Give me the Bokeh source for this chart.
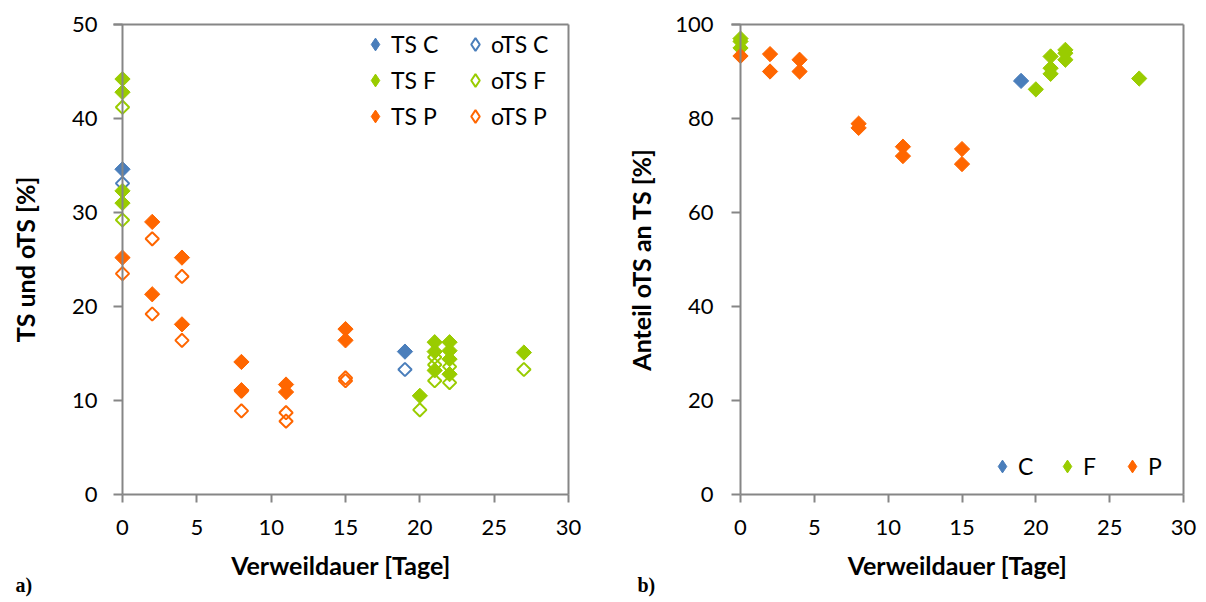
from bokeh.plotting import figure
from bokeh.models import Legend, LegendItem, FixedTicker, Title, Span, LinearAxis
from bokeh.layouts import row
from bokeh.embed import file_html
from bokeh.resources import INLINE
import math

# ---- data (a): TS and oTS [%] vs. retention time [days]
ts_c_days = [0, 19]
ts_c_vals = [34.6, 15.2]
ots_c_days = [0, 19]
ots_c_vals = [33.1, 13.3]

ts_f_days = [0, 0, 0, 0, 20, 21, 21, 21, 22, 22, 22, 22, 27]
ts_f_vals = [44.2, 42.8, 32.3, 31.0, 10.5, 16.2, 15.2, 13.2, 16.2, 15.3, 14.4, 12.8, 15.1]
ots_f_days = [0, 0, 20, 21, 21, 21, 22, 22, 27]
ots_f_vals = [41.2, 29.2, 9.0, 14.6, 13.8, 12.1, 13.6, 11.9, 13.3]

ts_p_days = [0, 2, 2, 4, 4, 8, 8, 11, 11, 15, 15]
ts_p_vals = [25.2, 29.0, 21.3, 25.2, 18.1, 14.1, 11.1, 11.7, 10.9, 17.6, 16.4]
ots_p_days = [0, 2, 2, 4, 4, 8, 8, 11, 11, 15, 15]
ots_p_vals = [23.5, 27.2, 19.2, 23.2, 16.4, 11.0, 8.9, 8.7, 7.8, 12.4, 12.1]

# ---- data (b): share of oTS in TS [%]
c_days = [19]
c_share = [88.0]
f_days = [0, 0, 0, 20, 21, 21, 21, 22, 22, 22, 27]
f_share = [97.0, 96.4, 95.0, 86.2, 93.2, 90.7, 89.5, 94.6, 93.9, 92.5, 88.5]
p_days = [0, 2, 2, 4, 4, 8, 8, 11, 11, 15, 15]
p_share = [93.3, 93.7, 90.0, 92.5, 90.0, 78.9, 78.0, 74.0, 72.0, 73.5, 70.3]

x_ticks = [0, 5, 10, 15, 20, 25, 30]
ya_ticks = [0, 10, 20, 30, 40, 50]
yb_ticks = [0, 20, 40, 60, 80, 100]

BLUE = "#4A7EBB"
GREEN = "#99CC00"
ORANGE = "#FF6600"
GRAY = "#868686"
FONT = "Lato"
ANG = math.pi / 4
FS = 10.8   # filled marker size (rotated square)
OS = 9.4    # open marker size
NAN = float("nan")


def plain_axis(**kw):
    ax = LinearAxis(ticker=FixedTicker(ticks=[]), **kw)
    ax.axis_line_color = GRAY
    ax.axis_line_width = 2
    ax.major_tick_line_color = None
    ax.minor_tick_line_color = None
    ax.major_label_text_font_size = "0px"
    return ax


def build(frame_w, x_start, y_top, yticks, ylabel, ystand, ylab_stand, border_left, border_right):
    p = figure(frame_width=frame_w, frame_height=470, x_range=(x_start, 30), y_range=(0, y_top),
               min_border_left=border_left, min_border_right=border_right,
               min_border_top=24, min_border_bottom=104,
               x_axis_location=None, y_axis_location=None,
               output_backend="svg", toolbar_location=None)
    p.xgrid.visible = False
    p.ygrid.visible = False
    p.outline_line_color = None
    p.background_fill_color = "white"
    p.border_fill_color = "white"
    xa = LinearAxis(ticker=FixedTicker(ticks=x_ticks), bounds=(0, 30))
    ya = LinearAxis(ticker=FixedTicker(ticks=yticks))
    for ax in (xa, ya):
        ax.axis_line_color = GRAY
        ax.axis_line_width = 2
        ax.major_tick_line_color = GRAY
        ax.major_tick_line_width = 2
        ax.minor_tick_line_color = None
        ax.major_label_text_font = FONT
        ax.major_label_text_font_size = "22px"
        ax.major_label_text_color = "black"
        ax.axis_label_text_font = FONT
        ax.axis_label_text_font_size = "25px"
        ax.axis_label_text_font_style = "bold"
        ax.axis_label_text_color = "black"
    xa.major_tick_in = 0
    xa.major_tick_out = 8
    # y axis sits at the frame edge; its ticks reach into the margin up to x = 0
    ya.axis_line_color = None
    ya.major_tick_out = 0
    ya.major_tick_in = 9
    xa.axis_label = "Verweildauer [Tage]"
    ya.axis_label = ylabel
    xa.major_label_standoff = 17
    ya.major_label_standoff = ylab_stand
    xa.axis_label_standoff = 12
    ya.axis_label_standoff = ystand
    p.add_layout(xa, "below")
    p.add_layout(ya, "left")
    p.add_layout(plain_axis(bounds=(x_start, 30)), "above")
    p.add_layout(plain_axis(), "right")
    p.add_layout(Span(location=0, dimension="height", line_color=GRAY, line_width=2))
    return p


def make_legend(items, loc, orientation="vertical"):
    return Legend(items=items, location=loc, orientation=orientation,
                  label_text_font=FONT, label_text_font_size="23px", label_text_color="black",
                  glyph_width=32, glyph_height=32, label_height=20, label_standoff=0,
                  spacing=4, padding=0, margin=0,
                  border_line_alpha=0, background_fill_alpha=0)


def key(p, color, filled):
    if filled:
        return p.scatter([NAN], [NAN], marker="diamond", fill_color=color, line_color=color)
    return p.scatter([NAN], [NAN], marker="diamond", fill_alpha=0, line_color=color, line_width=2)


def panel_tag(text, offset):
    return Title(text=text, align="left", offset=offset, standoff=-22,
                 text_font="Liberation Serif", text_font_style="bold",
                 text_font_size="20px", text_color="black")


# ---------------- figure a  (x = 0 sits at canvas x 122)
pa = build(455, -0.605, 50, ya_ticks, "TS und oTS [%]", 29, 16, 113, 35)

pa.scatter(ts_c_days, ts_c_vals, marker="square", angle=ANG, size=FS,
           fill_color=BLUE, line_color=BLUE, line_width=1)
pa.scatter(ots_c_days, ots_c_vals, marker="square", angle=ANG, size=OS,
           fill_alpha=0, line_color=BLUE, line_width=2)
pa.scatter(ts_f_days, ts_f_vals, marker="square", angle=ANG, size=FS,
           fill_color=GREEN, line_color=GREEN, line_width=1)
pa.scatter(ots_f_days, ots_f_vals, marker="square", angle=ANG, size=OS,
           fill_alpha=0, line_color=GREEN, line_width=2)
pa.scatter(ts_p_days, ts_p_vals, marker="square", angle=ANG, size=FS,
           fill_color=ORANGE, line_color=ORANGE, line_width=1)
pa.scatter(ots_p_days, ots_p_vals, marker="square", angle=ANG, size=OS,
           fill_alpha=0, line_color=ORANGE, line_width=2)

pa.add_layout(make_legend([LegendItem(label="TS C", renderers=[key(pa, BLUE, True)]),
                           LegendItem(label="TS F", renderers=[key(pa, GREEN, True)]),
                           LegendItem(label="TS P", renderers=[key(pa, ORANGE, True)])], (246, 362)))
pa.add_layout(make_legend([LegendItem(label="oTS C", renderers=[key(pa, BLUE, False)]),
                           LegendItem(label="oTS F", renderers=[key(pa, GREEN, False)]),
                           LegendItem(label="oTS P", renderers=[key(pa, ORANGE, False)])], (346, 362)))

pa.add_layout(panel_tag("a)", -98), "below")

# ---------------- figure b  (x = 0 sits at canvas x 740)
pb = build(452, -0.6095, 100, yb_ticks, "Anteil oTS an TS [%]", 16, 18, 128, 23)

pb.scatter(c_days, c_share, marker="square", angle=ANG, size=FS,
           fill_color=BLUE, line_color=BLUE, line_width=1)
pb.scatter(f_days, f_share, marker="square", angle=ANG, size=FS,
           fill_color=GREEN, line_color=GREEN, line_width=1)
pb.scatter(p_days, p_share, marker="square", angle=ANG, size=FS,
           fill_color=ORANGE, line_color=ORANGE, line_width=1)

lg3 = make_legend([LegendItem(label="C", renderers=[key(pb, BLUE, True)]),
                   LegendItem(label="F", renderers=[key(pb, GREEN, True)]),
                   LegendItem(label="P", renderers=[key(pb, ORANGE, True)])], (255, 12), "horizontal")
lg3.label_width = 23
lg3.spacing = 10
pb.add_layout(lg3)

pb.add_layout(panel_tag("b)", -94), "below")

layout = row(pa, pb)
open("out.html", "w").write(file_html(layout, INLINE))
